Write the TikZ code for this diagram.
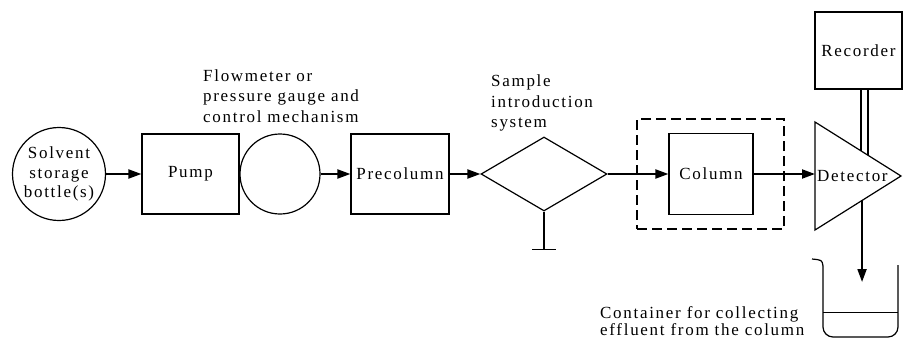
\documentclass[tikz,border=0pt]{standalone}
\usepackage{fontspec}
\newfontfamily\diagfont[LetterSpace=10]{Liberation Serif}
\usetikzlibrary{arrows.meta,shapes.geometric,calc}
\begin{document}
\begin{tikzpicture}[x=1pt,y=-1pt,
  font=\diagfont\fontsize{17}{20.5}\selectfont,
  unit/.style={draw, line width=1.2pt, inner sep=0pt},
  flow/.style={line width=2pt, -{Triangle[length=13pt,width=9pt]}},
  link/.style={line width=1.6pt},
  label/.style={anchor=west, align=left, inner sep=0pt}]
\useasboundingbox (0,0) rectangle (903,343);

% main flow line, left to right
\node[unit, circle, minimum size=93pt, align=center,
      font=\diagfont\fontsize{17}{19.5}\selectfont] (solvent) at (59,174) {Solvent\\storage\\bottle(s)};
\node[unit, minimum width=97pt, minimum height=80pt] (pump) at (190.5,174) {Pump};
\node[unit, circle, minimum size=80pt] (meter) at (280,174) {};
\node[unit, minimum width=98pt, minimum height=80pt] (precol) at (400,174) {Precolumn};
\node[unit, diamond, minimum width=126pt, minimum height=74pt] (inject) at (544,174) {};
\node[draw, line width=1.2pt, dash pattern=on 10pt off 5pt, minimum width=147pt, minimum height=110pt] (oven) at (710.5,174) {};
\node[unit, minimum width=84pt, minimum height=81pt] (column) at (711,174) {Column};
\node[unit, minimum width=87pt, minimum height=77pt] (recorder) at (858.5,50.5) {Recorder};

% detector triangle
\coordinate (dtop) at (815,122);
\coordinate (dbot) at (815,230);
\coordinate (dtip) at (901,176);
\draw[line width=1.2pt] (dtop) -- (dtip) -- (dbot) -- cycle;
\node[anchor=west, inner sep=0pt] (detector) at (817,176) {Detector};

% labels
\node[label] (meterlabel) at (203,96) {Flowmeter or\\pressure gauge and\\control mechanism};
\node[label] (samplelabel) at (491,103) {Sample\\introduction\\system};
\node[label, font=\diagfont\fontsize{17}{16.5}\selectfont] (note) at (600,321) {Container for collecting\\effluent from the column};

% connectors
\draw[flow] (solvent.east) -- (pump.west);
\draw[flow] (meter.east) -- (precol.west);
\draw[flow] (precol.east) -- (inject.west);
\draw[flow] (inject.east) -- (column.west);
\draw[flow] (column.east) -- (column.east -| dtop);

% sample injection port
\draw[link] (inject.south) -- ++(0,38) coordinate (port);
\draw[link] ($(port)+(-12,0)$) -- ($(port)+(12,0)$);

% recorder cable
\coordinate (c1) at ($(dtop)!0.535!(dtip)$);
\coordinate (c2) at ($(dtop)!0.616!(dtip)$);
\draw[link] (recorder.south -| c1) -- (c1);
\draw[link] (recorder.south -| c2) -- (c2);

% effluent to collecting container
\coordinate (out) at ($(dbot)!0.547!(dtip)$);
\coordinate (drop) at ($(out|-0,0)+(0,282)$);
\draw[flow] (out) -- (drop);
\draw[line width=1.2pt, rounded corners=10pt] (823,266) -- (823,337) -- (898,337) -- (898,265);
\draw[line width=1.2pt] (823,266) .. controls (822,260) .. (812,259);
\draw[line width=1pt] (823,312) -- (898,312);
\end{tikzpicture}
\end{document}
